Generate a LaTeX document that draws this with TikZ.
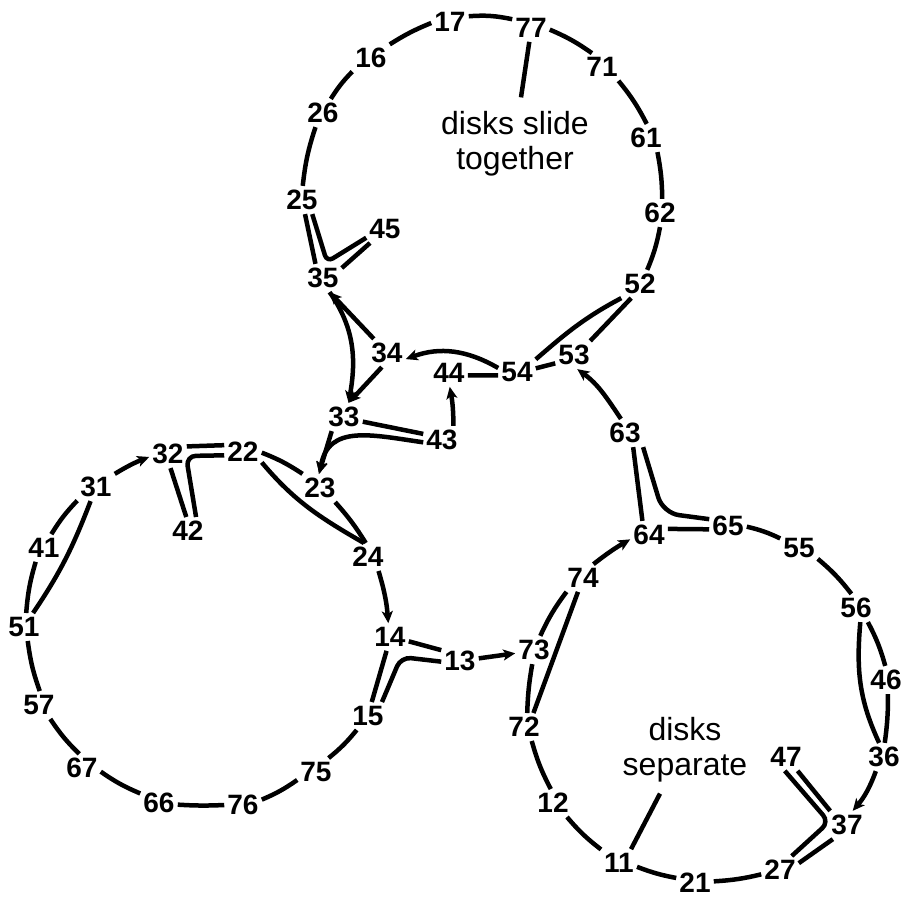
\documentclass[tikz,border=0pt]{standalone}
\usepackage{fontspec}
\setmainfont{Liberation Sans}
\usetikzlibrary{arrows.meta}
\tikzset{
  lbl/.style={font=\fontsize{28}{30}\selectfont\bfseries, inner xsep=3pt, inner ysep=4pt},
  note/.style={font=\fontsize{32}{35}\selectfont, align=center, inner sep=0pt},
  ln/.style={line width=4.5pt},
  arr/.style={ln, -{Stealth[length=12pt,width=11pt,inset=3pt]}},
  bent/.style={ln, rounded corners=#1},
}
\begin{document}
\begin{tikzpicture}[x=1pt,y=-1pt]
\useasboundingbox (0,0) rectangle (903,899);
% labels
\node[lbl] (n17) at (450,22) {17};
\node[lbl] (n77) at (531,28) {77};
\node[lbl] (n16) at (371,58) {16};
\node[lbl] (n71) at (602,67) {71};
\node[lbl] (n26) at (323,113) {26};
\node[lbl] (n61) at (646,138) {61};
\node[lbl] (n25) at (302,200) {25};
\node[lbl] (n62) at (660,213) {62};
\node[lbl] (n45) at (385,229) {45};
\node[lbl] (n35) at (323,278) {35};
\node[lbl] (n52) at (640,284) {52};
\node[lbl] (n34) at (387,353) {34};
\node[lbl] (n44) at (449,373) {44};
\node[lbl] (n54) at (517,372) {54};
\node[lbl] (n53) at (574,355) {53};
\node[lbl] (n33) at (344,417) {33};
\node[lbl] (n43) at (442,440) {43};
\node[lbl] (n63) at (625,433) {63};
\node[lbl] (n23) at (320,488) {23};
\node[lbl] (n32) at (168,454) {32};
\node[lbl] (n22) at (243,452) {22};
\node[lbl] (n31) at (96,487) {31};
\node[lbl] (n42) at (188,531) {42};
\node[lbl] (n41) at (44,548) {41};
\node[lbl] (n24) at (368,557) {24};
\node[lbl] (n51) at (24,627) {51};
\node[lbl] (n14) at (390,637) {14};
\node[lbl] (n57) at (39,705) {57};
\node[lbl] (n15) at (368,716) {15};
\node[lbl] (n67) at (82,768) {67};
\node[lbl] (n75) at (316,772) {75};
\node[lbl] (n66) at (159,803) {66};
\node[lbl] (n76) at (243,805) {76};
\node[lbl] (n13) at (460,661) {13};
\node[lbl] (n64) at (649,535) {64};
\node[lbl] (n65) at (728,526) {65};
\node[lbl] (n55) at (799,548) {55};
\node[lbl] (n74) at (583,578) {74};
\node[lbl] (n56) at (856,608) {56};
\node[lbl] (n73) at (534,650) {73};
\node[lbl] (n46) at (886,680) {46};
\node[lbl] (n72) at (524,727) {72};
\node[lbl] (n47) at (786,757) {47};
\node[lbl] (n36) at (884,757) {36};
\node[lbl] (n12) at (553,803) {12};
\node[lbl] (n37) at (847,825) {37};
\node[lbl] (n11) at (619,863) {11};
\node[lbl] (n27) at (780,870) {27};
\node[lbl] (n21) at (695,883) {21};
\node[note] (tt) at (515,144) {disks slide\\together};
\node[note] (ts) at (685,750) {disks\\separate};
% corners of the doubled connectors
\coordinate (k25) at (327,262);
\coordinate (k63) at (663,513);
\coordinate (k22) at (186,456);
\coordinate (k13) at (401,657);
\coordinate (k47) at (829,822);
% top circle
\draw[ln] (n25.87) to[bend left=6] (n26.242);
\draw[ln] (n26.61) to[bend left=6] (n16.216);
\draw[ln] (n16.36) to[bend left=5] (n17.183);
\draw[ln] (n17.17) to[bend left=8] (n77.155);
\draw[ln] (n77.-5) to[bend left=6] (n71.126);
\draw[ln] (n71.-40) to[bend left=6] (n61.87);
\draw[ln] (n61.-51) to[bend left=5] (n62.81);
\draw[ln] (n62.-90) to[bend left=6] (n52.63);
\draw[ln] (n25.-78) -- (n35.118);
\draw[bent=7pt] (n25.-54) -- (k25) -- (n45.205);
\draw[ln] (n35.28) -- (n45.223);
\draw[ln] (n52.238) -- (n53.41);
\draw[ln] (n52.217) to[out=208,in=41] (n54.34);
\draw[ln] (n54.11) -- (n53.204);
\draw[ln] (n44.-7) -- (n54.190);
\draw[arr] (n54.168) to[out=150,in=20] (n34.-18);
\draw[arr] (n43.51) to[bend right=5] (n44.-87);
\draw[arr] (n34.133) -- (n35.-65);
\draw[arr] (n35.-65) to[out=-55,in=80] (n33.72);
\draw[arr] (n34.250) -- (n33.72);
\draw[ln] (n33.-14) -- (n43.162);
\draw[arr] (n43.187) to[out=172,in=80,looseness=1.2] (n23.92);
\draw[arr] (n33.229) -- (n23.95);
\draw[arr] (n63.106) to[out=124,in=-36] (n53.-77);
\draw[ln] (n63.-60) -- (n64.115);
\draw[bent=16pt] (n63.-38) -- (k63) -- (n65.160);
\draw[ln] (n64.18) -- (n65.190);
\draw[ln] (n77.263) -- ([xshift=6pt,yshift=14pt]tt.north);
% right circle
\draw[ln] (n65.-2) to[bend left=6] (n55.153);
\draw[ln] (n55.-30) to[bend left=6] (n56.108);
\draw[ln] (n56.-50) to[bend left=6] (n46.93);
\draw[ln] (n46.-82) to[bend left=4] (n36.87);
\draw[ln] (n56.-73) to[out=-95,in=115] (n36.109);
\draw[arr] (n36.240) to[bend left=10] (n37.68);
\draw[ln] (n47.-50) -- (n37.140);
\draw[bent=9pt] (n47.-95) -- (k47) -- (n27.50);
\draw[ln] (n37.225) -- (n27.20);
\draw[ln] (n27.193) to[bend left=5] (n21.5);
\draw[ln] (n21.165) to[bend left=5] (n11.-12);
\draw[ln] (n11.143) to[bend left=6] (n12.-45);
\draw[ln] (n12.99) to[bend left=6] (n72.-61);
\draw[ln] (n72.77) to[bend left=4] (n73.263);
\draw[ln] (n73.66) to[bend left=6] (n74.220);
\draw[ln] (n72.56) -- (n74.250);
\draw[arr] (n74.53) to[bend left=4] (n64.193);
\draw[arr] (n13.8) -- (n73.190);
\draw[ln] (n11.49) -- ([xshift=-25pt,yshift=-11pt]ts.south);
% left circle
\draw[arr] (n31.35) to[bend left=5] (n32.189);
\draw[ln] (n32.22) -- (n22.160);
\draw[bent=10pt] (n22.190) -- (k22) -- (n42.60);
\draw[ln] (n32.-80) -- (n42.97);
\draw[ln] (n22.-2) to[bend left=6] (n23.141);
\draw[ln] (n22.-29) to[out=-50,in=150] (n24.106);
\draw[ln] (n23.-43) to[bend left=5] (n24.99);
\draw[arr] (n24.-53) to[bend left=6] (n14.97);
\draw[ln] (n14.-13) -- (n13.150);
\draw[bent=10pt] (n13.182) -- (k13) -- (n15.45);
\draw[ln] (n14.-104) -- (n15.75);
\draw[ln] (n15.231) to[bend left=6] (n75.48);
\draw[ln] (n75.203) to[bend left=6] (n76.16);
\draw[ln] (n76.180) to[bend left=3] (n66.-5);
\draw[ln] (n66.153) to[bend left=6] (n67.-11);
\draw[ln] (n67.101) to[bend left=6] (n57.-51);
\draw[ln] (n57.87) to[bend left=6] (n51.-75);
\draw[ln] (n51.81) to[bend left=6] (n41.239);
\draw[ln] (n41.62) to[bend left=6] (n31.216);
\draw[ln] (n31.249) to[out=249,in=56] (n51.57);
\end{tikzpicture}
\end{document}
